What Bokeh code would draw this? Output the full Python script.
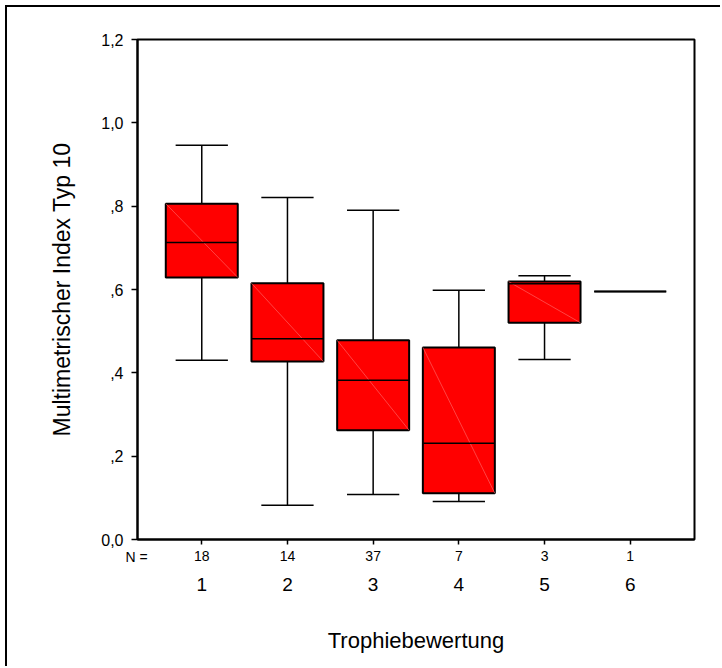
from bokeh.plotting import figure
from bokeh.models import (LinearAxis, FixedTicker, CustomJSTickFormatter, Label,
                          ColumnDataSource, Range1d)
from bokeh.embed import file_html
from bokeh.resources import INLINE

# ---- data ----
categories = [1, 2, 3, 4, 5, 6]
counts = [18, 14, 37, 7, 3, 1]
upper_whisker = [0.946, 0.821, 0.790, 0.598, 0.633, 0.595]
q3 = [0.806, 0.615, 0.478, 0.461, 0.619, 0.595]
median = [0.713, 0.482, 0.382, 0.231, 0.614, 0.595]
q1 = [0.629, 0.427, 0.262, 0.111, 0.520, 0.595]
lower_whisker = [0.430, 0.082, 0.108, 0.091, 0.432, 0.595]
y_ticks = [0.0, 0.2, 0.4, 0.6, 0.8, 1.0, 1.2]
n_label = "N ="

x_title = "Trophiebewertung"
y_title = "Multimetrischer Index Typ 10"

FONT = "Liberation Sans"
BOX_W = 0.84
CAP_W = 0.61

src = ColumnDataSource(dict(
    x=categories, q1=q1, q3=q3, med=median, lo=lower_whisker, hi=upper_whisker,
    left=[c - BOX_W / 2 for c in categories], right=[c + BOX_W / 2 for c in categories],
))
n_w = 5  # groups with spread get whiskers
wsrc = ColumnDataSource(dict(
    x=categories[:n_w], q1=q1[:n_w], q3=q3[:n_w], lo=lower_whisker[:n_w], hi=upper_whisker[:n_w],
    cl=[c - CAP_W / 2 for c in categories[:n_w]], cr=[c + CAP_W / 2 for c in categories[:n_w]],
    left=[c - BOX_W / 2 for c in categories[:n_w]], right=[c + BOX_W / 2 for c in categories[:n_w]],
))

p = figure(width=722, height=668, output_backend="svg", toolbar_location=None,
           x_range=Range1d(0.25, 6.75), y_range=Range1d(0, 1.2),
           min_border_left=137, min_border_right=28, min_border_top=39, min_border_bottom=129,
           background_fill_color="white", border_fill_color="white")
p.grid.visible = False
p.outline_line_color = "black"
p.outline_line_width = 2
# outer picture frame (top and left edges only), overlaid on the canvas, kept inside the window
p.stylesheets = [""":host { position: relative; overflow: hidden; }
:host::after {
    content: "";
    position: absolute;
    left: 5px; top: 5px; width: 715px; height: 661px;
    box-sizing: border-box;
    border-left: 2px solid black; border-top: 2px solid black;
    pointer-events: none; z-index: 100;
}"""]

# whiskers
p.segment(x0="x", y0="q3", x1="x", y1="hi", source=wsrc, line_color="black", line_width=1.5)
p.segment(x0="x", y0="q1", x1="x", y1="lo", source=wsrc, line_color="black", line_width=1.5)
p.segment(x0="cl", y0="hi", x1="cr", y1="hi", source=wsrc, line_color="black", line_width=1.5)
p.segment(x0="cl", y0="lo", x1="cr", y1="lo", source=wsrc, line_color="black", line_width=1.5)

# boxes
p.quad(left="left", right="right", bottom="q1", top="q3", source=src,
       fill_color="#ff0000", line_color="black", line_width=2)
# faint diagonal artefact
p.segment(x0="left", y0="q3", x1="right", y1="q1", source=wsrc, line_color="#ff7070", line_width=0.6)
# medians
p.segment(x0="left", y0="med", x1="right", y1="med", source=src, line_color="black", line_width=1.5)

# y axis
ya = p.yaxis[0]
ya.ticker = FixedTicker(ticks=y_ticks)
ya.formatter = CustomJSTickFormatter(code="""
    var s = tick.toFixed(1).replace('.', ',');
    if (s.startsWith('0,') && s !== '0,0') { s = s.substring(1); }
    return s;
""")
ya.axis_line_width = 2
ya.major_tick_line_width = 1.5
ya.major_tick_out = 6
ya.major_tick_in = 0
ya.minor_tick_line_color = None
ya.major_label_standoff = 8
ya.major_label_text_font = FONT
ya.major_label_text_font_size = "16px"
ya.major_label_text_color = "black"
ya.axis_label = y_title
ya.axis_label_text_font = FONT
ya.axis_label_text_font_size = "23px"
ya.axis_label_text_font_style = "normal"
ya.axis_label_text_color = "black"
ya.axis_label_standoff = 23

# x axis 1: counts row
xa = p.xaxis[0]
xa.ticker = FixedTicker(ticks=categories)
xa.major_label_overrides = {c: str(n) for c, n in zip(categories, counts)}
xa.axis_line_width = 2
xa.major_tick_line_width = 1.5
xa.major_tick_out = 5
xa.major_tick_in = 0
xa.minor_tick_line_color = None
xa.major_label_standoff = 6
xa.major_label_text_font = FONT
xa.major_label_text_font_size = "14px"
xa.major_label_text_color = "black"

# x axis 2: category labels and title
xa2 = LinearAxis(ticker=FixedTicker(ticks=categories))
xa2.major_label_overrides = {c: str(c) for c in categories}
xa2.axis_line_color = None
xa2.major_tick_line_color = None
xa2.minor_tick_line_color = None
xa2.major_label_standoff = 8
xa2.major_label_text_font = FONT
xa2.major_label_text_font_size = "19px"
xa2.major_label_text_color = "black"
xa2.axis_label = x_title
xa2.axis_label_text_font = FONT
xa2.axis_label_text_font_size = "22px"
xa2.axis_label_text_font_style = "normal"
xa2.axis_label_text_color = "black"
xa2.axis_label_standoff = 34
p.add_layout(xa2, "below")

# "N =" caption of the counts row (in a side panel so it is not clipped to the frame)
p.add_layout(Label(x=136, y=556, x_units="canvas", y_units="canvas", text=n_label,
                   text_font=FONT, text_font_size="14px",
                   text_align="center", text_baseline="middle", text_color="black"), "left")

open("out.html", "w").write(file_html(p, INLINE))
